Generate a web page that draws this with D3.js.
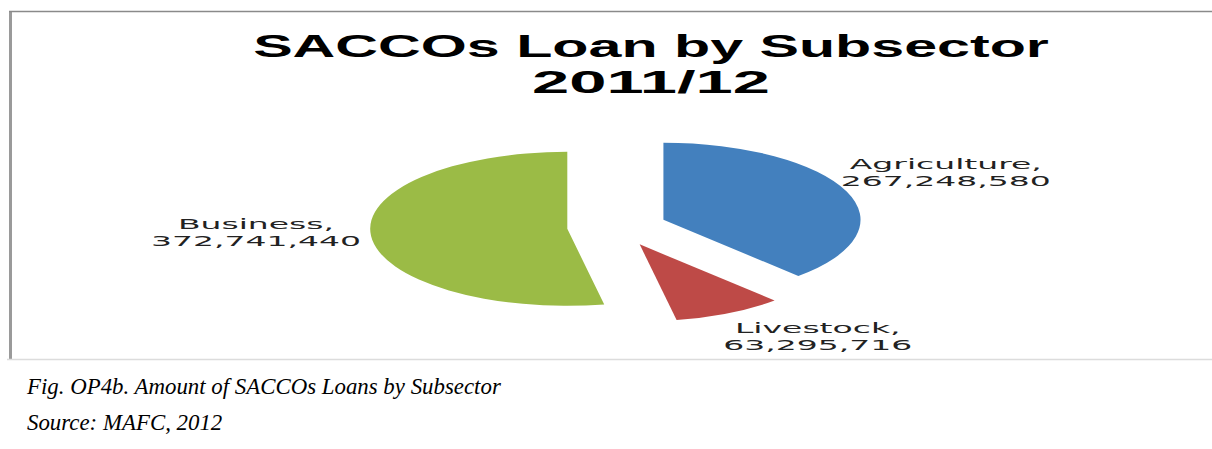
<!DOCTYPE html>
<html>
<head>
<meta charset="utf-8">
<script src="https://cdn.jsdelivr.net/npm/d3@7"></script>
<style>
    body { margin: 0; background: #fff; }
    svg { display: block; }
</style>
</head>
<body>
<svg id="chart" width="1212" height="449"></svg>
<script>
// chart data
var categories = ["Agriculture", "Livestock", "Business"];
var loanValues = [267248580, 63295716, 372741440];
var sliceColors = ["#4380be", "#be4a47", "#9bbb46"];
var titleLines = ["SACCOs Loan by Subsector", "2011/12"];
var captionLines = ["Fig. OP4b. Amount of SACCOs Loans by Subsector", "Source: MAFC, 2012"];

var svg = d3.select("#chart");

// frame of the pasted chart picture
svg.append("rect")
    .attr("x", 9).attr("y", 11)
    .attr("width", 3).attr("height", 348)
    .attr("fill", "#9a9a9a");
svg.append("line")
    .attr("x1", 9).attr("x2", 1212)
    .attr("y1", 11.5).attr("y2", 11.5)
    .attr("stroke", "#8a8a8a").attr("stroke-width", 1.5);
svg.append("line")
    .attr("x1", 7).attr("x2", 1212)
    .attr("y1", 359.5).attr("y2", 359.5)
    .attr("stroke", "#dcdcdc").attr("stroke-width", 1.5);

// title, stretched sideways like the original picture
var titleY = [57, 93];
var titleW = [796, 238];
var titleText = svg.selectAll(".title")
    .data(titleLines)
    .join("text")
    .attr("class", "title")
    .attr("text-anchor", "middle")
    .style("font-family", "'Liberation Sans', sans-serif")
    .style("font-weight", "bold")
    .style("font-size", "31px")
    .attr("fill", "#000")
    .text(function (d) { return d; });
titleText.attr("transform", function (d, i) {
    var k = titleW[i] / this.getComputedTextLength();
    return "translate(651," + titleY[i] + ") scale(" + k + ",1)";
});

// pie (the picture is squashed, so draw a circle and scale it)
var R = 77, sx = 2.56, explode = 19.5, cx = 617, cy = 227;
var data = categories.map(function (c, i) {
    return { name: c, value: loanValues[i], color: sliceColors[i] };
});
var pie = d3.pie().sort(null).value(function (d) { return d.value; });
var arc = d3.arc().innerRadius(0).outerRadius(R);
var arcs = pie(data);

var pieG = svg.append("g")
    .attr("transform", "translate(" + cx + "," + cy + ") scale(" + sx + ",1)");
pieG.selectAll("path")
    .data(arcs)
    .join("path")
    .attr("d", arc)
    .attr("transform", function (d) {
        var a = (d.startAngle + d.endAngle) / 2;
        return "translate(" + (Math.sin(a) * explode) + "," + (-Math.cos(a) * explode) + ")";
    })
    .attr("fill", function (d) { return d.data.color; });

// data labels outside each slice
var fmt = d3.format(",");
var labelK = 2.36;
arcs.forEach(function (d) {
    var a = (d.startAngle + d.endAngle) / 2;
    var px = cx + sx * Math.sin(a) * (explode + R);
    var py = cy - Math.cos(a) * (explode + R);
    var lines = [d.data.name + ",", fmt(d.data.value)];
    var g = svg.append("g");
    var texts = g.selectAll("text")
        .data(lines)
        .join("text")
        .attr("text-anchor", "middle")
        .style("font-family", "'DejaVu Sans', sans-serif")
        .style("font-size", "14px")
        .attr("fill", "#222")
        .text(function (t) { return t; });
    var boxW = d3.max(texts.nodes(), function (n) { return n.getComputedTextLength(); }) * labelK;
    var left = Math.sin(a) > 0 ? px - 6 : px - 10 - boxW;
    // push the label box outwards from the slice
    var mid = py - 6 - 34 * Math.cos(a);
    texts.attr("transform", function (t, i) {
        return "translate(" + (left + boxW / 2) + "," + (mid - 4 + i * 17) + ") scale(" + labelK + ",1)";
    });
});

// caption under the picture
var capY = [394, 430];
var cap = svg.selectAll(".caption")
    .data(captionLines)
    .join("text")
    .attr("class", "caption")
    .style("font-family", "'Liberation Serif', serif")
    .style("font-style", "italic")
    .style("font-size", "23px")
    .attr("fill", "#000")
    .text(function (d) { return d; });
var capK = 474 / cap.node().getComputedTextLength();
cap.attr("transform", function (d, i) {
    return "translate(27," + capY[i] + ") scale(" + capK + ",1)";
});
</script>
</body>
</html>
